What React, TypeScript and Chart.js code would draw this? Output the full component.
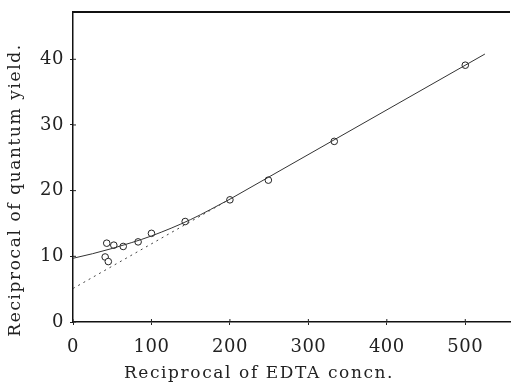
import React, { useEffect, useRef } from "react";
import { Chart, registerables } from "chart.js";

Chart.register(...registerables);

const measuredX = [41, 43, 45, 52, 64, 83, 100, 143, 200, 249, 333, 500];
const measuredY = [9.9, 12.0, 9.2, 11.7, 11.5, 12.2, 13.5, 15.3, 18.6, 21.6, 27.5, 39.1];

const curveX = [0, 25, 50, 75, 100, 150, 200];
const curveY = [9.7, 10.4, 11.2, 12.1, 13.1, 15.6, 18.7];

const fitX = [200, 525];
const fitY = [18.7, 40.8];

const extrapX = [0, 200];
const extrapY = [5.1, 18.7];

const xTicks = [0, 100, 200, 300, 400, 500];
const yTicks = [0, 10, 20, 30, 40];

const xTitle = "Reciprocal of EDTA concn.";
const yTitle = "Reciprocal of quantum yield.";

const xy = (xs: number[], ys: number[]) => xs.map((x, i) => ({ x, y: ys[i] }));

const FONT = "'DejaVu Serif', serif";

export default function App() {
  const ref = useRef<HTMLCanvasElement | null>(null);
  useEffect(() => {
    document.body.style.margin = "0";
    const setSpacing = (chart: any) => {
      chart.ctx.letterSpacing = "0.5px";
    };
    const spacing = {
      id: "spacing",
      beforeUpdate: setSpacing,
      beforeLayout: setSpacing,
      beforeDraw: setSpacing,
    };
    const frame = {
      id: "frame",
      afterDraw(chart: any) {
        const { ctx, chartArea, scales } = chart;
        ctx.save();
        ctx.strokeStyle = "#111";
        ctx.lineWidth = 2;
        ctx.beginPath();
        ctx.moveTo(chartArea.left, chartArea.top);
        ctx.lineTo(chartArea.right, chartArea.top);
        ctx.stroke();
        // inward tick marks
        ctx.lineWidth = 1;
        ctx.strokeStyle = "#222";
        ctx.beginPath();
        xTicks.forEach((v) => {
          const px = scales.x.getPixelForValue(v);
          ctx.moveTo(px, chartArea.bottom);
          ctx.lineTo(px, chartArea.bottom - 3);
        });
        yTicks.forEach((v) => {
          const py = scales.y.getPixelForValue(v);
          ctx.moveTo(chartArea.left, py);
          ctx.lineTo(chartArea.left + 3, py);
        });
        ctx.stroke();
        // axis titles
        ctx.fillStyle = "#222";
        ctx.font = `17px ${FONT}`;
        ctx.letterSpacing = "1.6px";
        ctx.textAlign = "center";
        ctx.textBaseline = "middle";
        ctx.fillText(xTitle, 259, 374);
        ctx.translate(16, 190);
        ctx.rotate(-Math.PI / 2);
        ctx.letterSpacing = "1.6px";
        ctx.fillText(yTitle, 0, 0);
        ctx.restore();
      },
    };
    const chart = new Chart(ref.current!, {
      type: "scatter",
      data: {
        datasets: [
          {
            data: xy(extrapX, extrapY),
            showLine: true,
            borderColor: "#444",
            borderWidth: 1,
            borderDash: [2, 4],
            pointRadius: 0,
          },
          {
            data: xy(curveX, curveY),
            showLine: true,
            borderColor: "#333",
            borderWidth: 1,
            cubicInterpolationMode: "monotone",
            pointRadius: 0,
          },
          {
            data: xy(fitX, fitY),
            showLine: true,
            borderColor: "#333",
            borderWidth: 1,
            pointRadius: 0,
          },
          {
            data: xy(measuredX, measuredY),
            showLine: false,
            pointStyle: "circle",
            pointRadius: 3.3,
            pointBackgroundColor: "#fff",
            pointBorderColor: "#222",
            pointBorderWidth: 1,
          },
        ],
      } as any,
      options: {
        animation: false,
        responsive: false,
        layout: { autoPadding: false, padding: { top: 12, right: 1, left: 0, bottom: 0 } },
        plugins: { legend: { display: false }, tooltip: { enabled: false } },
        scales: {
          x: {
            type: "linear",
            min: 0,
            max: 557,
            afterBuildTicks: (s: any) => {
              s.ticks = xTicks.map((v) => ({ value: v }));
            },
            afterFit: (s: any) => {
              s.height = 65;
              s.paddingRight = 0;
              s.paddingLeft = 0;
            },
            grid: { drawOnChartArea: false, tickLength: 3, color: "#222" },
            border: { display: true, color: "#111", width: 1.5 },
            ticks: { color: "#222", font: { family: FONT, size: 18 }, padding: 12, maxRotation: 0 },
            title: { display: false },
          },
          y: {
            type: "linear",
            min: 0,
            max: 47.2,
            afterBuildTicks: (s: any) => {
              s.ticks = yTicks.map((v) => ({ value: v }));
            },
            afterFit: (s: any) => {
              s.width = 73;
              s.paddingTop = 0;
              s.paddingBottom = 0;
            },
            grid: { drawOnChartArea: false, tickLength: 3, color: "#222" },
            border: { display: true, color: "#111", width: 1.5 },
            ticks: { color: "#222", font: { family: FONT, size: 18 }, padding: 6 },
            title: { display: false },
          },
        },
      } as any,
      plugins: [spacing, frame],
    });
    return () => chart.destroy();
  }, []);
  return (
    <div style={{ position: "absolute", left: 0, top: 0, width: 511, height: 387, background: "#fff" }}>
      <canvas ref={ref} width={511} height={387} />
    </div>
  );
}
